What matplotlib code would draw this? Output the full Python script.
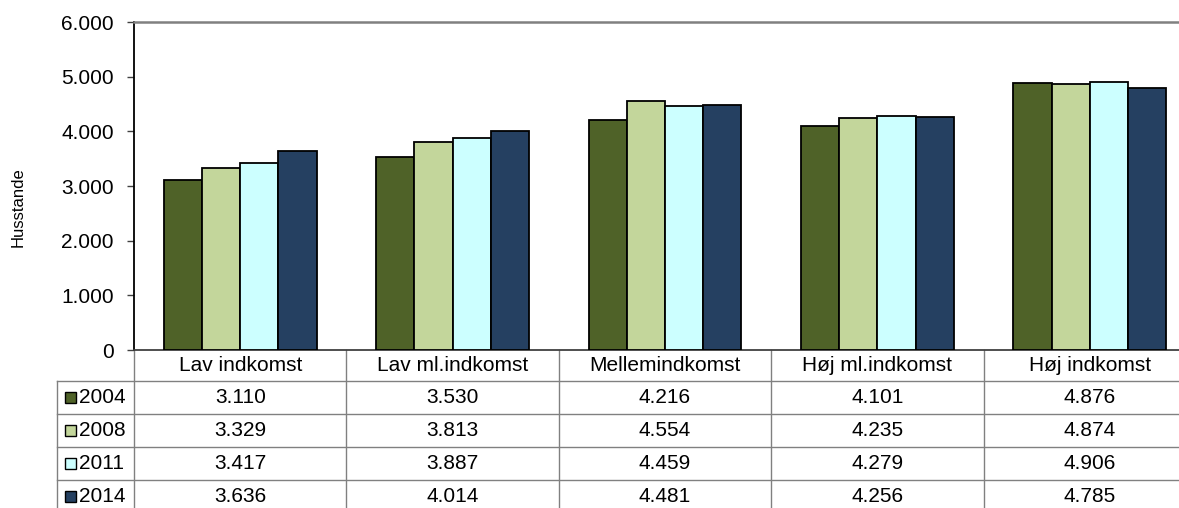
import matplotlib
matplotlib.use('Agg')
import matplotlib.pyplot as plt
from matplotlib.patches import Rectangle
import numpy as np

categories = ["Lav indkomst", "Lav ml.indkomst", "Mellemindkomst", "Høj ml.indkomst", "Høj indkomst"]
years = ["2004", "2008", "2011", "2014"]
v2004 = [3110, 3530, 4216, 4101, 4876]
v2008 = [3329, 3813, 4554, 4235, 4874]
v2011 = [3417, 3887, 4459, 4279, 4906]
v2014 = [3636, 4014, 4481, 4256, 4785]
series = [v2004, v2008, v2011, v2014]
colors = ["#4F6228", "#C3D69B", "#CCFFFF", "#254061"]
yticks = [0, 1000, 2000, 3000, 4000, 5000, 6000]
ytick_labels = ["0", "1.000", "2.000", "3.000", "4.000", "5.000", "6.000"]
ylabel = "Husstande"

plt.rcParams['font.family'] = ['Liberation Sans', 'DejaVu Sans']
FS = 15

W, H = 1179, 508
fig = plt.figure(figsize=(W / 100, H / 100), dpi=100)
ax_left, ax_right, ax_top, ax_bottom = 134, 1196, 22, 350
ax = fig.add_axes([ax_left / W, 1 - ax_bottom / H, (ax_right - ax_left) / W, (ax_bottom - ax_top) / H])

x = np.arange(len(categories))
bw = 0.18
for i, (vals, c) in enumerate(zip(series, colors)):
    ax.bar(x + (i - 1.5) * bw, vals, bw, color=c, edgecolor='black', linewidth=1.3, zorder=3)

ax.set_xlim(-0.5, len(categories) - 0.5)
ax.set_ylim(0, 6000)
ax.set_yticks(yticks)
ax.set_yticklabels(ytick_labels, fontsize=FS)
ax.set_xticks([])
ax.tick_params(axis='y', direction='out', length=5, width=1, pad=9.5, color='#404040')
ax.spines['left'].set_color('black')
ax.spines['left'].set_linewidth(1.3)
ax.spines['top'].set_color('#808080')
ax.spines['top'].set_linewidth(1.8)
ax.spines['right'].set_visible(False)
ax.spines['bottom'].set_color('#404040')
ax.spines['bottom'].set_linewidth(1.3)
fig.text(18 / W, 1 - 207 / H, ylabel, rotation=90, ha='center', va='center', fontsize=12)

# Table below axes (axes-fraction coordinates)
ah = ax_bottom - ax_top
aw = ax_right - ax_left
def fy(py):
    return (ax_bottom - py) / ah
def fx(px):
    return (px - ax_left) / aw

row_edges = [350, 381, 414, 447, 480, 512]
left_col = 57
grid_col = '#808080'
tr = ax.transAxes
for k in range(len(categories) + 1):
    xx = k / len(categories)
    ax.plot([xx, xx], [fy(row_edges[0]), fy(row_edges[-1])], color=grid_col, lw=1, transform=tr, clip_on=False)
ax.plot([fx(left_col), fx(left_col)], [fy(row_edges[1]), fy(row_edges[-1])], color=grid_col, lw=1, transform=tr, clip_on=False)
for r in row_edges[1:-1]:
    ax.plot([fx(left_col), 1], [fy(r), fy(r)], color=grid_col, lw=1, transform=tr, clip_on=False)

for k, cat in enumerate(categories):
    ax.text((k + 0.5) / len(categories), fy((row_edges[0] + row_edges[1]) / 2), cat,
            ha='center', va='center', fontsize=FS, transform=tr, clip_on=False)

for i, (yr, vals, c) in enumerate(zip(years, series, colors)):
    yc = fy((row_edges[i + 1] + row_edges[i + 2]) / 2)
    sq = 11
    ax.add_patch(Rectangle((fx(65), yc - (sq / 2) / ah), sq / aw, sq / ah, facecolor=c, edgecolor='black',
                           lw=1, transform=tr, clip_on=False))
    ax.text(fx(79), yc, yr, ha='left', va='center', fontsize=FS, transform=tr, clip_on=False)
    for k, v in enumerate(vals):
        s = f"{v:,}".replace(",", ".")
        ax.text((k + 0.5) / len(categories), yc, s, ha='center', va='center', fontsize=FS,
                transform=tr, clip_on=False)

fig.savefig('out.png', dpi=100)
